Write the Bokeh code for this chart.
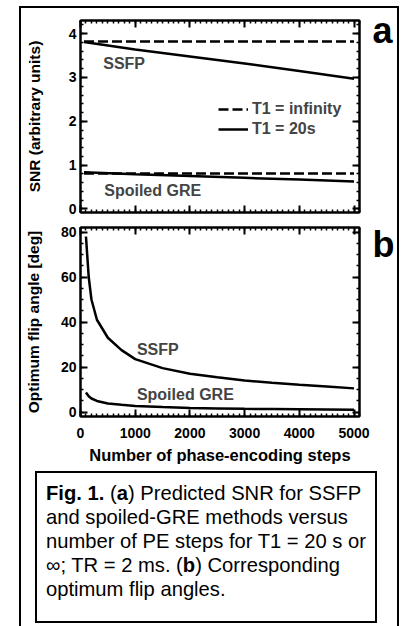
from bokeh.plotting import figure
from bokeh.models import (LinearAxis, Label, Legend, LegendItem, Div, FixedTicker, Range1d,
                          Spacer, CustomJSTickFormatter)
from bokeh.layouts import column, row
from bokeh.embed import file_html
from bokeh.resources import INLINE

# ---- data ----
snr_steps = [64, 1000, 2000, 3000, 4000, 5000]
ssfp_snr_inf = [3.82, 3.82, 3.82, 3.82, 3.82, 3.82]
ssfp_snr_t1 = [3.81, 3.64, 3.48, 3.32, 3.15, 2.97]
gre_snr_inf = [0.81, 0.81, 0.81, 0.81, 0.81, 0.81]
gre_snr_t1 = [0.84, 0.79, 0.75, 0.71, 0.67, 0.63]

flip_steps = [100, 150, 200, 300, 500, 750, 1000, 1500, 2000, 2500, 3000, 3500, 4000, 4500, 5000]
ssfp_flip = [78, 60, 50, 41, 33, 27.5, 23.5, 19.5, 17.0, 15.4, 14.0, 13.0, 12.1, 11.3, 10.5]
gre_flip = [8.7, 7.0, 6.0, 4.9, 3.8, 3.2, 2.7, 2.2, 1.8, 1.6, 1.4, 1.3, 1.2, 1.1, 1.0]

x_ticks = [0, 1000, 2000, 3000, 4000, 5000]
snr_ticks = [0, 1, 2, 3, 4]
flip_ticks = [0, 20, 40, 60, 80]

FONT = "Liberation Sans"
TICK_SIZE = "14px"
YTITLE_SIZE = "15.5px"
XTITLE_SIZE = "16.5px"
TEXT_SIZE = "16px"


def style_axis(ax):
    ax.major_tick_in = 7
    ax.major_tick_out = 0
    ax.minor_tick_in = 3
    ax.minor_tick_out = 0
    ax.axis_line_width = 2
    ax.major_tick_line_width = 2
    ax.minor_tick_line_width = 1.5
    ax.major_label_text_font = FONT
    ax.major_label_text_font_style = "bold"
    ax.major_label_text_font_size = TICK_SIZE
    ax.major_label_text_color = "black"
    ax.axis_label_text_font = FONT
    ax.axis_label_text_font_style = "bold"
    ax.axis_label_text_font_size = YTITLE_SIZE
    ax.axis_label_text_color = "black"


def hide_labels(ax):
    ax.major_label_text_color = None
    ax.major_label_text_font_size = "1px"
    ax.major_label_standoff = 0


def make_fig(height, y_range, border_top, border_bottom, yticks, yminor, ylabel,
             letter, letter_pos, xlabel):
    p = figure(width=376, height=height, output_backend="svg", toolbar_location=None,
               x_range=Range1d(0, 5100), y_range=Range1d(*y_range),
               min_border_left=59, min_border_right=35,
               min_border_top=border_top, min_border_bottom=border_bottom)
    p.grid.visible = False
    p.outline_line_color = "black"
    p.outline_line_width = 2
    p.background_fill_color = "white"
    p.border_fill_color = "white"
    xt = FixedTicker(ticks=x_ticks, minor_ticks=list(range(0, 5101, 100)))
    yt = FixedTicker(ticks=yticks, minor_ticks=yminor)
    p.xaxis.ticker = xt
    p.yaxis.ticker = yt
    top = LinearAxis(ticker=xt)
    right = LinearAxis(ticker=yt)
    p.add_layout(top, "above")
    p.add_layout(right, "right")
    for ax in [p.below[0], p.left[0], top, right]:
        style_axis(ax)
    hide_labels(top)
    hide_labels(right)
    if xlabel is None:
        hide_labels(p.below[0])
    else:
        p.below[0].axis_label = xlabel
        p.below[0].axis_label_text_font_size = XTITLE_SIZE
        p.below[0].major_label_standoff = 11
        p.below[0].axis_label_standoff = 5
    p.left[0].axis_label = ylabel
    p.left[0].major_label_standoff = 4

    # panel letter drawn as the label of an extra right axis (outside the frame)
    lt = FixedTicker(ticks=[letter_pos], minor_ticks=[])
    lax = LinearAxis(ticker=lt, formatter=CustomJSTickFormatter(code="return '%s'" % letter))
    lax.axis_line_color = None
    lax.major_tick_line_color = None
    lax.minor_tick_line_color = None
    lax.major_tick_in = 0
    lax.major_tick_out = 0
    lax.minor_tick_in = 0
    lax.minor_tick_out = 0
    lax.major_label_standoff = 13
    lax.major_label_text_font = FONT
    lax.major_label_text_font_style = "bold"
    lax.major_label_text_font_size = "36px"
    lax.major_label_text_color = "black"
    p.add_layout(lax, "right")
    return p


# ---- plot a ----
pa = make_fig(214, (-0.08, 4.3), 12, 10, snr_ticks,
              [round(i * 0.2, 2) for i in range(0, 22)],
              "SNR (arbitrary units)", "a", 4.08, None)
pa.left[0].axis_label_standoff = 23
r1 = pa.line(snr_steps, ssfp_snr_inf, line_color="black", line_width=2.5, line_dash="10 4")
r2 = pa.line(snr_steps, ssfp_snr_t1, line_color="black", line_width=2.5)
pa.line(snr_steps, gre_snr_inf, line_color="black", line_width=2.5, line_dash="10 4")
pa.line(snr_steps, gre_snr_t1, line_color="black", line_width=2.5)

legend = Legend(items=[LegendItem(label="T1 = infinity", renderers=[r1]),
                       LegendItem(label="T1 = 20s", renderers=[r2])],
                location=(138, 73), glyph_width=30, glyph_height=20, label_height=20,
                spacing=0, padding=0, margin=0, border_line_color=None,
                background_fill_alpha=0, label_text_font=FONT,
                label_text_font_style="bold", label_text_font_size=TEXT_SIZE,
                label_standoff=4)
pa.add_layout(legend)

for x, y, t in [(416, 3.32, "SSFP"), (434, 0.42, "Spoiled GRE")]:
    pa.add_layout(Label(x=x, y=y, text=t, text_font=FONT, text_font_style="bold",
                        text_font_size=TEXT_SIZE, text_baseline="middle", text_align="left"))

# ---- plot b ----
pb = make_fig(244, (-2, 82), 5, 46, flip_ticks, list(range(0, 83, 5)),
              "Optimum flip angle [deg]", "b", 74.5, "Number of phase-encoding steps")
pb.left[0].axis_label_standoff = 16
pb.line(flip_steps, ssfp_flip, line_color="black", line_width=2.5)
pb.line(flip_steps, gre_flip, line_color="black", line_width=2.5)
for x, y, t in [(1031, 28.0, "SSFP"), (1031, 7.6, "Spoiled GRE")]:
    pb.add_layout(Label(x=x, y=y, text=t, text_font=FONT, text_font_style="bold",
                        text_font_size=TEXT_SIZE, text_baseline="middle", text_align="left"))

# ---- caption ----
caption_html = ("<b>Fig. 1.</b> (<b>a</b>) Predicted SNR for SSFP<br>"
                "and spoiled-GRE methods versus<br>"
                "number of PE steps for T1 = 20 s or<br>"
                "&infin;; TR = 2 ms. (<b>b</b>) Corresponding<br>"
                "optimum flip angles.")
cap = Div(text=caption_html, width=342, height=152,
          styles={"border": "2px solid black", "font-family": FONT, "font-size": "20.2px",
                  "line-height": "24px", "padding": "8px 8px 0px 9px",
                  "box-sizing": "border-box", "white-space": "nowrap", "color": "black"})

cap_row = row(Spacer(width=9, height=152), cap)
box = column(pa, pb, cap_row, Spacer(width=376, height=6),
             styles={"border": "2px solid black", "border-bottom": "none",
                     "background": "white"})
page = column(Spacer(width=10, height=6), row(Spacer(width=19, height=10), box))

open("out.html", "w").write(file_html(page, INLINE))
